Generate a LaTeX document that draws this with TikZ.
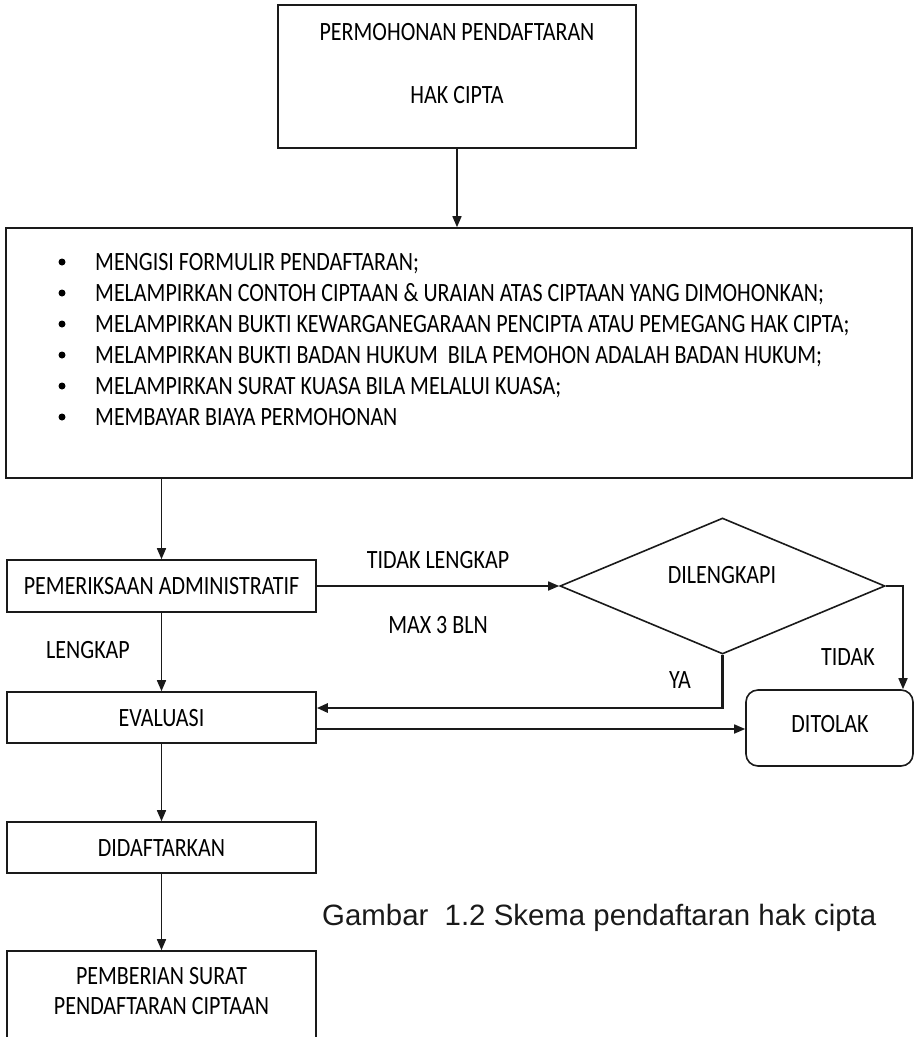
\documentclass[tikz,border=0pt]{standalone}
\usepackage{fontspec}
\setmainfont{Carlito}
\newfontfamily\capfont{Liberation Sans}
\usetikzlibrary{shapes.geometric,arrows.meta}
\definecolor{linec}{HTML}{1A1A1A}
\newcommand{\tallt}[1]{\scalebox{1}[1.2]{#1}}
\begin{document}
\begin{tikzpicture}[x=1pt,y=-1pt,
  box/.style={draw=linec, line width=1.6pt, inner sep=0pt},
  lbl/.style={inner sep=0pt, text height=17pt, text depth=0pt, font=\fontsize{22}{26}\selectfont},
  btxt/.style={box, font=\fontsize{22}{26}\selectfont, text height=17pt, text depth=0pt},
  itm/.style={lbl, anchor=west},
  dot/.style={circle, fill=black, inner sep=0pt, minimum size=7pt},
  arr/.style={draw=linec, line width=1.6pt, -{Triangle[length=11pt,width=9pt]}},
  thick arr/.style={arr, line width=2.6pt}
]
\useasboundingbox (0,0) rectangle (918,1037);

% top box
\node[box, minimum width=358pt, minimum height=143pt] (top) at (457,76.5) {};
\node[lbl] (t1) at (457,32) {\tallt{PERMOHONAN PENDAFTARAN}};
\node[lbl] (t2) at (457,95) {\tallt{HAK CIPTA}};

% requirements box
\node[box, minimum width=906pt, minimum height=250pt] (req) at (459,353) {};
\node[dot] (b1) at (62,262) {};
\node[dot] (b2) at (62,293) {};
\node[dot] (b3) at (62,324) {};
\node[dot] (b4) at (62,355) {};
\node[dot] (b5) at (62,386) {};
\node[dot] (b6) at (62,417) {};
\node[itm] (r1) at (95,262) {\tallt{MENGISI FORMULIR PENDAFTARAN;}};
\node[itm] (r2) at (95,293) {\tallt{MELAMPIRKAN CONTOH CIPTAAN \& URAIAN ATAS CIPTAAN YANG DIMOHONKAN;}};
\node[itm] (r3) at (95,324) {\tallt{MELAMPIRKAN BUKTI KEWARGANEGARAAN PENCIPTA ATAU PEMEGANG HAK CIPTA;}};
\node[itm] (r4) at (95,355) {\tallt{MELAMPIRKAN BUKTI BADAN HUKUM\ \ BILA PEMOHON ADALAH BADAN HUKUM;}};
\node[itm] (r5) at (95,386) {\tallt{MELAMPIRKAN SURAT KUASA BILA MELALUI KUASA;}};
\node[itm] (r6) at (95,417) {\tallt{MEMBAYAR BIAYA PERMOHONAN}};

% process boxes
\node[btxt, minimum width=309pt, minimum height=52pt] (pem) at (161.5,586) {\tallt{PEMERIKSAAN ADMINISTRATIF}};
\node[btxt, minimum width=309pt, minimum height=51pt] (eva) at (161.5,717.5) {\tallt{EVALUASI}};
\node[btxt, minimum width=309pt, minimum height=51pt] (daf) at (161.5,847.5) {\tallt{DIDAFTARKAN}};
\node[box, minimum width=309pt, minimum height=100pt] (pemb) at (161.5,1001) {};
\node[lbl] (p1) at (161.5,976) {\tallt{PEMBERIAN SURAT}};
\node[lbl] (p2) at (161.5,1006) {\tallt{PENDAFTARAN CIPTAAN}};

% decision
\node[box, diamond, minimum width=325pt, minimum height=136pt] (dia) at (722.5,586) {};
\node[lbl] (dl) at (722,575) {\tallt{DILENGKAPI}};

% rejected
\node[box, rounded corners=12pt, minimum width=167pt, minimum height=76pt] (tol) at (829.5,728) {};
\node[lbl] (tl) at (830,724) {\tallt{DITOLAK}};

% labels
\node[lbl] (l1) at (438,560) {\tallt{TIDAK LENGKAP}};
\node[lbl] (l2) at (438,625) {\tallt{MAX 3 BLN}};
\node[lbl] (l3) at (88,650) {\tallt{LENGKAP}};
\node[lbl] (l4) at (848,657) {\tallt{TIDAK}};
\node[lbl] (l5) at (680,680) {\tallt{YA}};

% caption
\node[anchor=base west, inner sep=0pt, text=linec, font=\capfont\fontsize{29.4}{34}\selectfont] (cap) at (322,925) {Gambar\ \ 1.2 Skema pendaftaran hak cipta};

% connectors
\coordinate (tk) at (903,586);
\coordinate (yc) at (722.5,708);
\draw[arr] (top.south) -- (top.south |- req.north);
\draw[arr] (pem.north |- req.south) -- (pem.north);
\draw[arr] (pem.east) -- (dia.west);
\draw[arr] (dia.east) -- (tk) -- (tk |- tol.north);
\draw[thick arr] (dia.south) -- (yc) -- (yc -| eva.east);
\draw[arr] ([yshift=-11.5pt]eva.east) -- ([yshift=-11.5pt]eva.east -| tol.west);
\draw[arr] (pem.south) -- (eva.north);
\draw[arr] (eva.south) -- (daf.north);
\draw[arr] (daf.south) -- (pemb.north);
\end{tikzpicture}
\end{document}
